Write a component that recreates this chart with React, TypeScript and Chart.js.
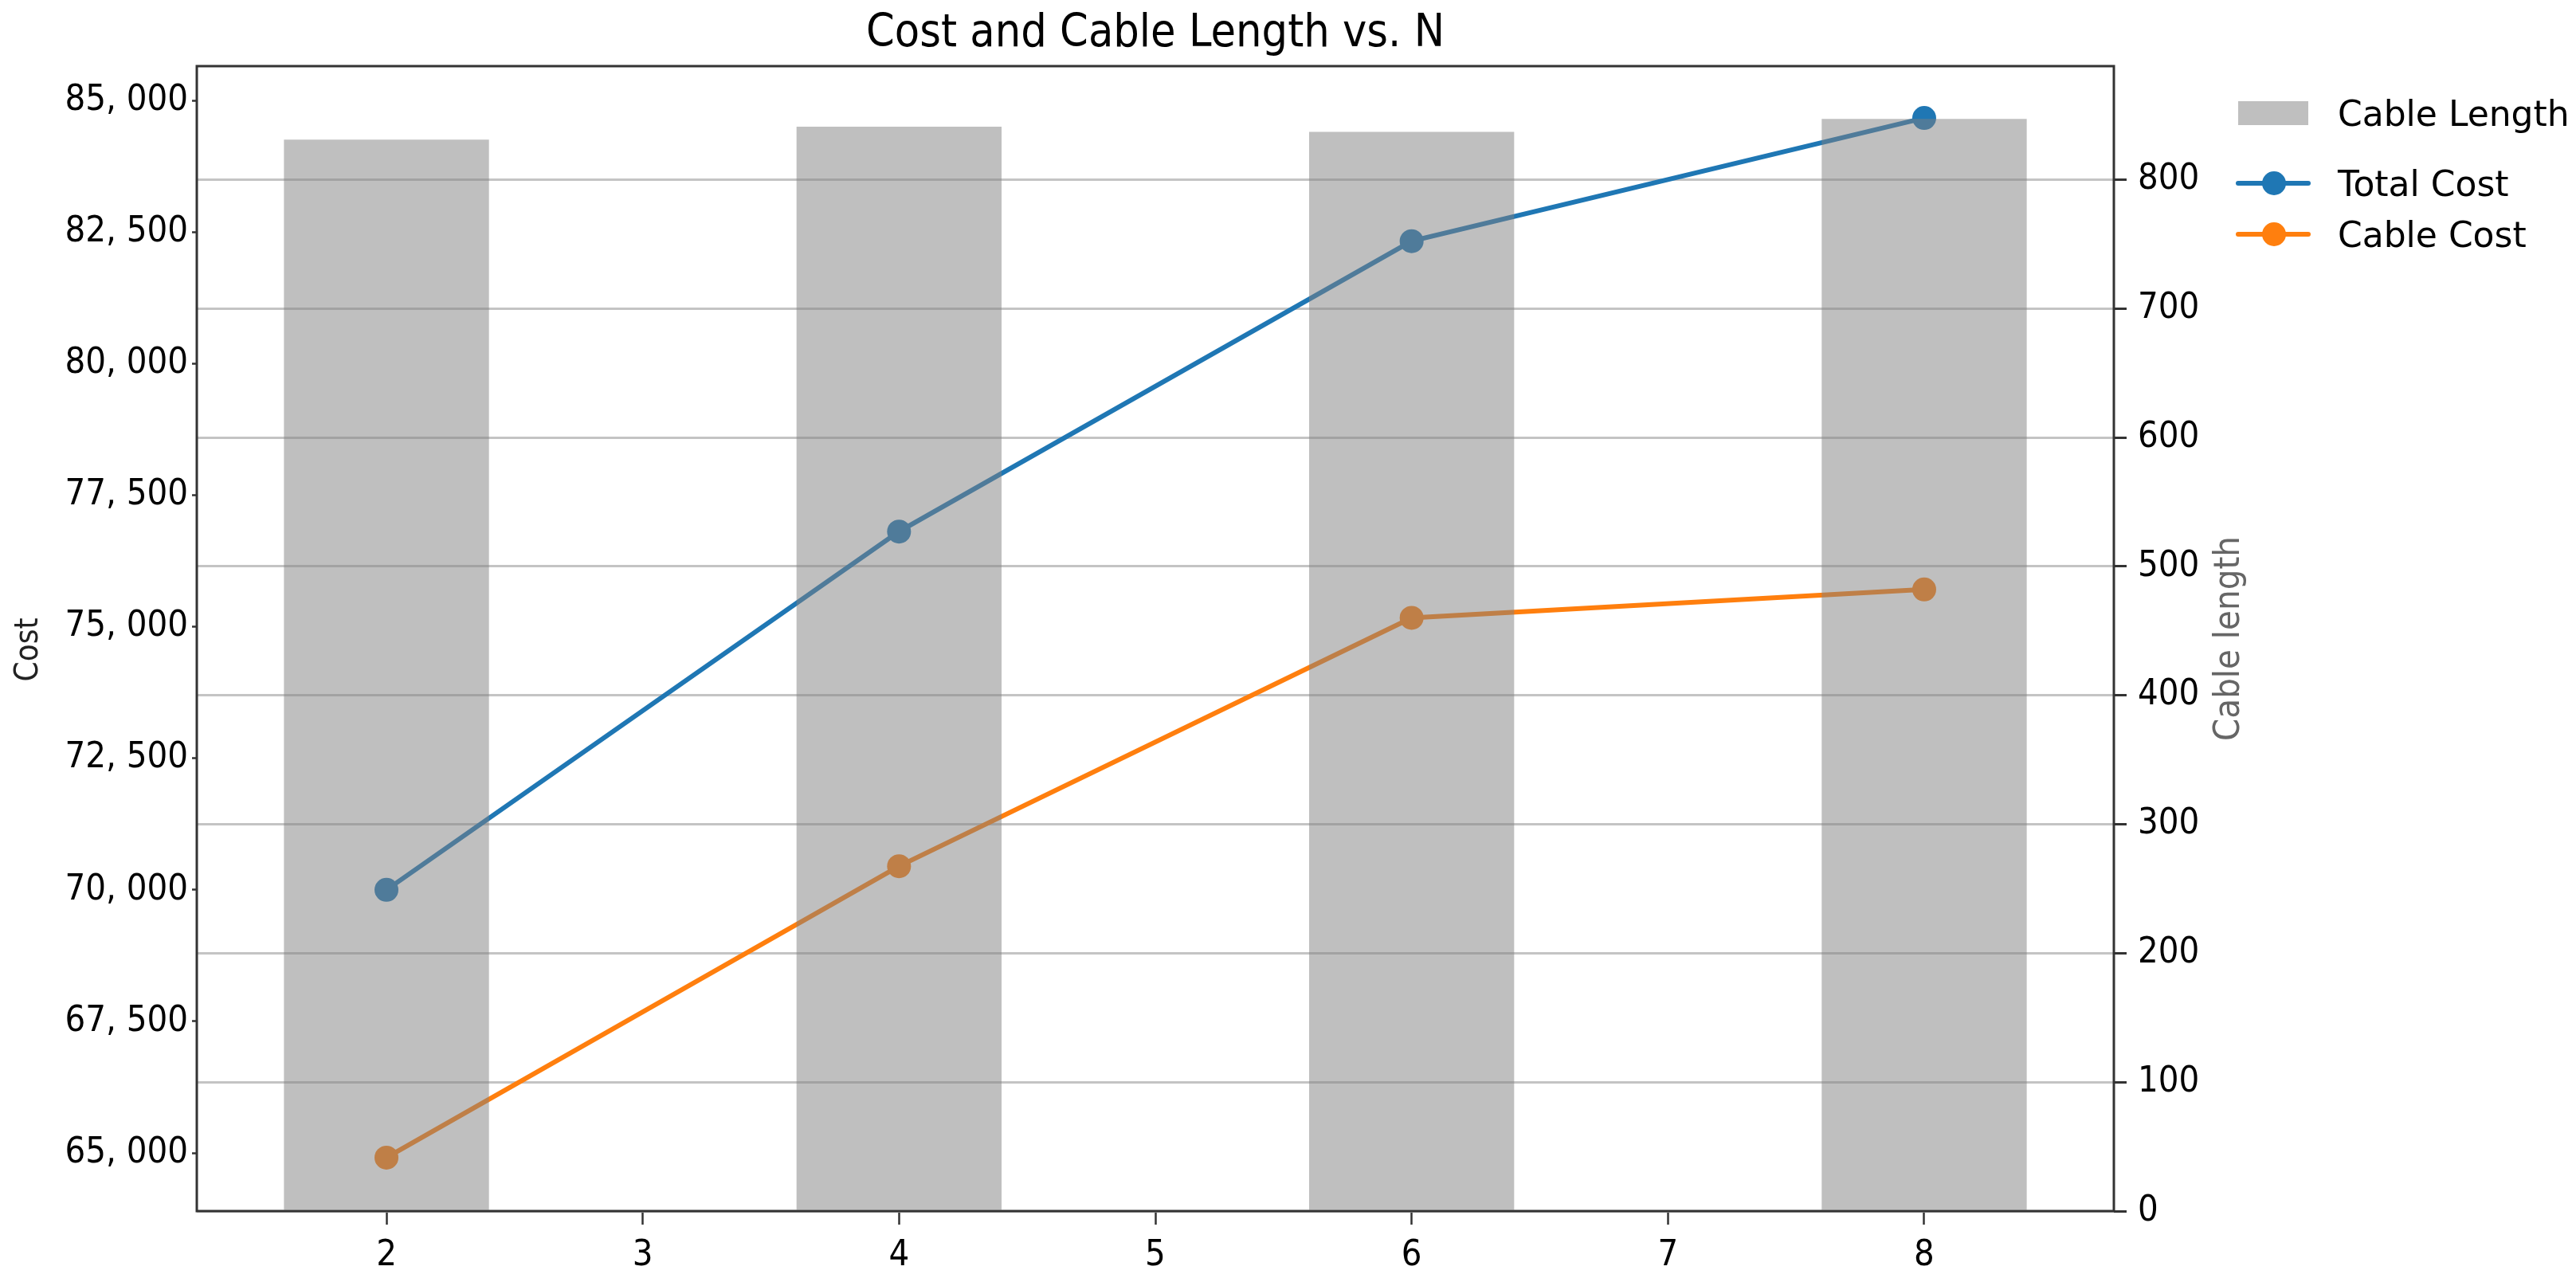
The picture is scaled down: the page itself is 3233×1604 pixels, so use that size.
import React, { useEffect, useRef } from "react";
import { Chart, registerables } from "chart.js";

Chart.register(...registerables);

// ---- data ----
const nValues = [2, 4, 6, 8];
const cableLength = [831, 841, 837, 847];
const totalCost = [70000, 76810, 82330, 84670];
const cableCost = [64910, 70450, 75170, 75710];

const xTicks = [2, 3, 4, 5, 6, 7, 8];
const costTicks = [65000, 67500, 70000, 72500, 75000, 77500, 80000, 82500, 85000];
const lengthTicks = [0, 100, 200, 300, 400, 500, 600, 700, 800];

const titleText = "Cost and Cable Length vs. N";
const leftTitle = "Cost";
const rightTitle = "Cable length";
const legendLabels = ["Cable Length", "Total Cost", "Cable Cost"];

const FONT = '"DejaVu Sans Condensed", "DejaVu Sans", "Noto Sans", sans-serif';
const FONT_WIDE = '"DejaVu Sans", "Noto Sans", sans-serif';
const BLUE = "#1f77b4";
const ORANGE = "#ff7f0e";
const BAR = "rgba(128,128,128,0.5)";
const DARK = "#333333";

const fmtCost = (v: number) => v.toLocaleString("en-US").replace(",", ", ");

const overlayPlugin = {
  id: "overlay",
  afterDraw(chart: any) {
    const { ctx, chartArea: a } = chart;
    ctx.save();
    // frame
    ctx.strokeStyle = DARK;
    ctx.lineWidth = 3;
    ctx.strokeRect(a.left, a.top, a.right - a.left, a.bottom - a.top);

    // chart title, centred over the plot area
    ctx.font = `57px ${FONT}`;
    ctx.fillStyle = "#000";
    ctx.textAlign = "center";
    ctx.textBaseline = "middle";
    ctx.fillText(titleText, (a.left + a.right) / 2, 43);

    const midY = (a.top + a.bottom) / 2;
    // left axis title
    ctx.save();
    ctx.translate(37, midY + 14);
    ctx.rotate(-Math.PI / 2);
    ctx.font = `40px ${FONT}`;
    ctx.fillStyle = "#222222";
    ctx.textAlign = "center";
    ctx.textBaseline = "middle";
    ctx.fillText(leftTitle, 0, 0);
    ctx.restore();

    // right axis title
    ctx.save();
    ctx.translate(a.right + 145, midY);
    ctx.rotate(-Math.PI / 2);
    ctx.font = `45px ${FONT}`;
    ctx.fillStyle = "#666666";
    ctx.textAlign = "center";
    ctx.textBaseline = "middle";
    ctx.fillText(rightTitle, 0, 0);
    ctx.restore();

    // legend
    const lx = a.right + 156;
    const tx = a.right + 281;
    const rows = [a.top + 59, a.top + 147, a.top + 211];
    ctx.textAlign = "left";
    ctx.textBaseline = "alphabetic";
    ctx.fillStyle = BAR;
    ctx.fillRect(lx, rows[0] - 15, 88, 30);
    const lineEntry = (y: number, color: string) => {
      ctx.strokeStyle = color;
      ctx.lineWidth = 6;
      ctx.lineCap = "round";
      ctx.beginPath();
      ctx.moveTo(lx, y);
      ctx.lineTo(lx + 88, y);
      ctx.stroke();
      ctx.fillStyle = color;
      ctx.beginPath();
      ctx.arc(lx + 45, y, 15, 0, Math.PI * 2);
      ctx.fill();
    };
    lineEntry(rows[1], BLUE);
    lineEntry(rows[2], ORANGE);
    ctx.font = `44px ${FONT_WIDE}`;
    ctx.fillStyle = "#000";
    legendLabels.forEach((t, i) => ctx.fillText(t, tx, rows[i] + 16));
    ctx.restore();
  },
};

export default function App() {
  const ref = useRef<HTMLCanvasElement | null>(null);
  useEffect(() => {
    document.body.style.margin = "0";
    if (!ref.current) return;
    Chart.defaults.font.family = FONT;
    const chart = new Chart(ref.current, {
      type: "bar",
      data: {
        datasets: [
          {
            type: "bar",
            label: legendLabels[0],
            data: nValues.map((n, i) => ({ x: n, y: cableLength[i] })),
            backgroundColor: BAR,
            borderWidth: 0,
            yAxisID: "y1",
            categoryPercentage: 0.8,
            barPercentage: 1,
            order: 1,
          },
          {
            type: "line",
            label: legendLabels[1],
            data: nValues.map((n, i) => ({ x: n, y: totalCost[i] })),
            borderColor: BLUE,
            backgroundColor: BLUE,
            borderWidth: 6,
            pointRadius: 15,
            pointBorderWidth: 0,
            pointBackgroundColor: BLUE,
            yAxisID: "y",
            order: 2,
          },
          {
            type: "line",
            label: legendLabels[2],
            data: nValues.map((n, i) => ({ x: n, y: cableCost[i] })),
            borderColor: ORANGE,
            backgroundColor: ORANGE,
            borderWidth: 6,
            pointRadius: 15,
            pointBorderWidth: 0,
            pointBackgroundColor: ORANGE,
            yAxisID: "y",
            order: 2,
          },
        ] as any,
      },
      options: {
        responsive: false,
        animation: false,
        devicePixelRatio: 1,
        layout: { padding: { top: 83, left: 0, right: 0, bottom: 0 } },
        plugins: {
          legend: { display: false },
          tooltip: { enabled: false },
          title: { display: false },
        },
        scales: {
          x: {
            type: "linear",
            offset: false,
            min: 1.26,
            max: 8.74,
            afterBuildTicks: (s: any) => {
              s.ticks = xTicks.map((v) => ({ value: v }));
            },
            afterFit: (s: any) => {
              s.height = 84;
            },
            ticks: { color: "#000", font: { size: 45 }, padding: 12, maxRotation: 0 },
            grid: { offset: false, drawOnChartArea: false, tickLength: 17, tickColor: DARK, tickWidth: 2.5 },
            border: { display: false },
          },
          y: {
            type: "linear",
            position: "left",
            min: 63895,
            max: 85656,
            afterBuildTicks: (s: any) => {
              s.ticks = costTicks.map((v) => ({ value: v }));
            },
            afterFit: (s: any) => {
              s.width = 247;
            },
            ticks: { color: "#000", font: { size: 45 }, padding: 5, callback: (v: any) => fmtCost(Number(v)) },
            grid: { drawOnChartArea: false, tickLength: 6, tickColor: DARK, tickWidth: 2.5 },
            border: { display: false },
          },
          y1: {
            type: "linear",
            position: "right",
            min: 0,
            max: 888,
            afterBuildTicks: (s: any) => {
              s.ticks = lengthTicks.map((v) => ({ value: v }));
            },
            afterFit: (s: any) => {
              s.width = 580;
            },
            ticks: { color: "#000", font: { size: 45 }, padding: 14 },
            grid: {
              drawOnChartArea: true,
              color: "#c4c4c4",
              lineWidth: 3,
              tickLength: 16,
              tickColor: DARK,
              tickWidth: 3,
            },
            border: { display: false },
          },
        },
      } as any,
      plugins: [overlayPlugin],
    });
    return () => chart.destroy();
  }, []);
  return (
    <div style={{ width: 3233, height: 1604, background: "#fff" }}>
      <canvas ref={ref} width={3233} height={1604} style={{ display: "block", width: 3233, height: 1604 }} />
    </div>
  );
}
